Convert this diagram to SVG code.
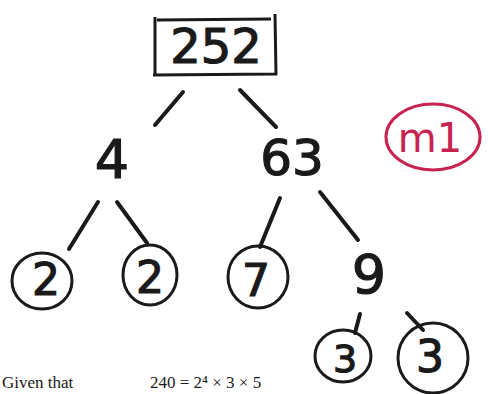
<svg xmlns="http://www.w3.org/2000/svg" width="488" height="394" viewBox="0 0 488 394">
<style>
.n{font-family:"DejaVu Sans","Liberation Sans",sans-serif;fill:#1a1a1a;stroke:#1a1a1a;stroke-width:1.2;text-anchor:middle;}
.c{fill:none;stroke:#1a1a1a;stroke-width:3;}
.e{stroke:#1a1a1a;stroke-width:4;stroke-linecap:round;fill:none;}
.r{fill:none;stroke:#c8224f;stroke-width:3;}
.rt{font-family:"DejaVu Sans","Liberation Sans",sans-serif;fill:#c8224f;text-anchor:middle;}
.f{font-family:"Liberation Serif",serif;fill:#1a1a1a;font-size:17px;}
</style>
<rect width="488" height="394" fill="#ffffff"/>
<g id="connectors">
<line class="e" x1="183" y1="92" x2="155" y2="125"/>
<line class="e" x1="240" y1="90" x2="276" y2="127"/>
<line class="e" x1="98" y1="202" x2="69" y2="249"/>
<line class="e" x1="117" y1="202" x2="147" y2="243"/>
<line class="e" x1="280" y1="198" x2="260" y2="247"/>
<line class="e" x1="320" y1="192" x2="358" y2="240"/>
<line class="e" x1="360" y1="314" x2="355" y2="333"/>
<line class="e" x1="407" y1="313" x2="423" y2="330"/>
</g>
<g id="n252">
<path class="c" d="M155,17 L155,75 M157,20 L271,19 M275,14 L276,75 M153,75 L277,74" stroke-width="3.5"/>
<text class="n" x="216" y="63" font-size="48">252</text>
</g>
<g id="n4">
<text class="n" x="112" y="178" font-size="54">4</text>
</g>
<g id="n63">
<text class="n" x="292" y="175" font-size="50">63</text>
</g>
<g id="n2a">
<ellipse class="c" cx="42" cy="281" rx="30" ry="28"/>
<text class="n" x="46" y="295" font-size="44">2</text>
</g>
<g id="n2b">
<ellipse class="c" cx="150" cy="275" rx="27" ry="30"/>
<text class="n" x="150" y="293" font-size="44">2</text>
</g>
<g id="n7">
<ellipse class="c" cx="258" cy="277" rx="30" ry="31"/>
<text class="n" x="256" y="296" font-size="44">7</text>
</g>
<g id="n9">
<text class="n" x="369" y="293" font-size="54">9</text>
</g>
<g id="n3a">
<ellipse class="c" cx="343" cy="356" rx="28" ry="26"/>
<text class="n" x="345" y="372" font-size="38">3</text>
</g>
<g id="n3b">
<ellipse class="c" cx="433" cy="358" rx="35" ry="35"/>
<text class="n" x="430" y="372" font-size="44">3</text>
</g>
<g id="m1">
<ellipse class="r" cx="433" cy="137" rx="47" ry="33"/>
<text class="rt" x="430" y="152" font-size="40">m1</text>
</g>
<text class="f" y="388"><tspan x="2">Given that</tspan><tspan x="150">240 = 2⁴ × 3 × 5</tspan></text>
</svg>
